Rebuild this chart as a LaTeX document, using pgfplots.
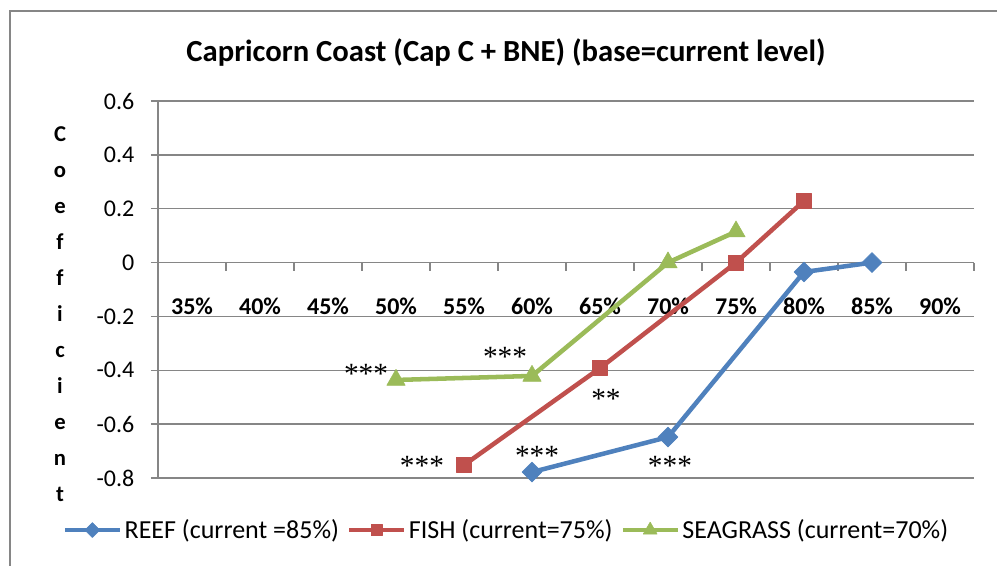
\documentclass[border=0pt]{standalone}
\usepackage{pgfplots}
\pgfplotsset{compat=1.18}
\usepackage{fontspec}
\setmainfont{Carlito}
\newfontfamily\astfont{Liberation Serif}
\definecolor{reef}{HTML}{4F81BD}
\definecolor{fish}{HTML}{C0504D}
\definecolor{sea}{HTML}{9BBB59}
\definecolor{axgray}{HTML}{868686}
\begin{document}
\begin{tikzpicture}[x=1pt,y=1pt]
\useasboundingbox (-118.5,-65.25) rectangle (629.25,358.5);
\begin{axis}[
  at={(0,0)}, anchor=south west, scale only axis,
  width=612pt, height=282.75pt,
  xmin=-0.5, xmax=11.5, ymin=-0.8, ymax=0.6,
  axis y line=left, axis x line=middle,
  axis line style={-, axgray, line width=1.1pt},
  hide obscured x ticks=false, hide obscured y ticks=false,
  ytick={-0.8,-0.6,-0.4,-0.2,0,0.2,0.4,0.6},
  yticklabels={-0.8,-0.6,-0.4,-0.2,0,0.2,0.4,0.6},
  ymajorgrids, grid style={axgray, line width=1.1pt},
  xtick={0,1,2,3,4,5,6,7,8,9,10,11},
  xticklabels={35\%,40\%,45\%,50\%,55\%,60\%,65\%,70\%,75\%,80\%,85\%,90\%},
  major x tick style={draw=none},
  minor xtick={-0.5,0.5,1.5,2.5,3.5,4.5,5.5,6.5,7.5,8.5,9.5,10.5,11.5},
  tick align=outside, major tick length=5.25pt, minor tick length=6pt,
  y tick style={axgray, line width=1.1pt},
  minor x tick style={axgray, line width=1.1pt},
  x tick label style={font=\bfseries\fontsize{18}{18}\selectfont, anchor=center, yshift=-27.5pt},
  y tick label style={font=\fontsize{18}{18}\selectfont, xshift=-9pt},
  legend columns=3,
  legend cell align=left,
  legend style={at={(-0.117,-0.138)}, anchor=west, draw=none, fill=none, inner sep=0pt,
    font=\fontsize{19.5}{19.5}\selectfont,
    /tikz/every even column/.append style={column sep=4pt}},
  legend image code/.code={
    \draw[#1, mark=none] (0pt,0pt) -- (41pt,0pt);
    \draw[#1, /tikz/every mark/.append style={scale=0.75}] plot coordinates {(20.5pt,0pt)};
  },
]
\addplot[reef, line width=3.4pt, line join=round, mark=square*, mark size=5.3pt,
  mark options={rotate=45, line width=0.4pt}]
  coordinates {(5,-0.778) (7,-0.648) (9,-0.035) (10,0)};
\addlegendentry{REEF (current =85\%)}
\addplot[fish, line width=3.4pt, line join=round, mark=square*, mark size=5.6pt,
  mark options={line width=0.4pt}]
  coordinates {(4,-0.752) (6,-0.392) (8,0) (9,0.229)};
\addlegendentry{FISH (current=75\%)}
\addplot[sea, line width=3.4pt, line join=round, mark=triangle*, mark size=8pt,
  mark options={line width=0.4pt}]
  coordinates {(3,-0.436) (5,-0.421) (7,0) (8,0.115)};
\addlegendentry{SEAGRASS (current=70\%)}
\node[font=\astfont\fontsize{22}{22}\selectfont, yshift=-3pt] at (axis cs:2.559,-0.399) {***};
\node[font=\astfont\fontsize{22}{22}\selectfont, yshift=-3pt] at (axis cs:4.603,-0.336) {***};
\node[font=\astfont\fontsize{22}{22}\selectfont, yshift=-3pt] at (axis cs:6.088,-0.492) {**};
\node[font=\astfont\fontsize{22}{22}\selectfont, yshift=-3pt] at (axis cs:3.382,-0.740) {***};
\node[font=\astfont\fontsize{22}{22}\selectfont, yshift=-3pt] at (axis cs:5.074,-0.703) {***};
\node[font=\astfont\fontsize{22}{22}\selectfont, yshift=-3pt] at (axis cs:7.029,-0.740) {***};
\end{axis}
\node[font=\bfseries\fontsize{23}{23}\selectfont] at (261,318.75) {Capricorn Coast (Cap C + BNE) (base=current level)};
\node[font=\bfseries\fontsize{17}{27}\selectfont, align=center] at (-73.5,123) {C\\o\\e\\f\\f\\i\\c\\i\\e\\n\\t};
\draw[axgray, line width=1.1pt] (-111,-70) -- (-111,350.25) -- (640,350.25);
\end{tikzpicture}
\end{document}
